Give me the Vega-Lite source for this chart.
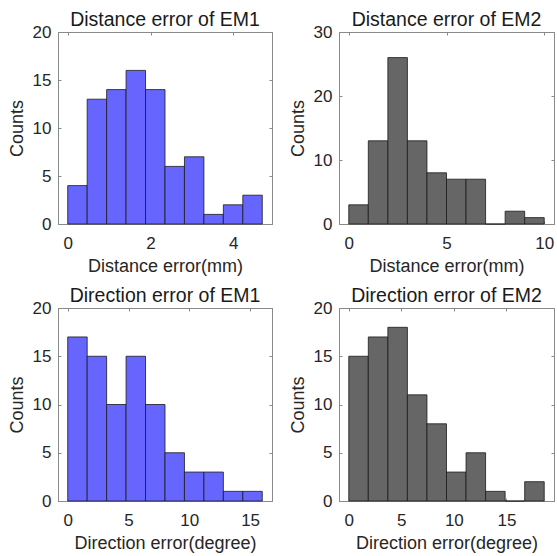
{
  "$schema": "https://vega.github.io/schema/vega-lite/v6.json",
  "background": "white",
  "padding": {"left": 7, "top": 9, "right": 0, "bottom": 0},
  "datasets": {
    "dist1": [
      {"start": 0.00, "end": 0.47, "count": 4},
      {"start": 0.47, "end": 0.94, "count": 13},
      {"start": 0.94, "end": 1.41, "count": 14},
      {"start": 1.41, "end": 1.88, "count": 16},
      {"start": 1.88, "end": 2.35, "count": 14},
      {"start": 2.35, "end": 2.82, "count": 6},
      {"start": 2.82, "end": 3.29, "count": 7},
      {"start": 3.29, "end": 3.76, "count": 1},
      {"start": 3.76, "end": 4.23, "count": 2},
      {"start": 4.23, "end": 4.70, "count": 3}
    ],
    "dist2": [
      {"start": 0, "end": 1, "count": 3},
      {"start": 1, "end": 2, "count": 13},
      {"start": 2, "end": 3, "count": 26},
      {"start": 3, "end": 4, "count": 13},
      {"start": 4, "end": 5, "count": 8},
      {"start": 5, "end": 6, "count": 7},
      {"start": 6, "end": 7, "count": 7},
      {"start": 7, "end": 8, "count": 0},
      {"start": 8, "end": 9, "count": 2},
      {"start": 9, "end": 10, "count": 1}
    ],
    "dir1": [
      {"start": 0.0, "end": 1.6, "count": 17},
      {"start": 1.6, "end": 3.2, "count": 15},
      {"start": 3.2, "end": 4.8, "count": 10},
      {"start": 4.8, "end": 6.4, "count": 15},
      {"start": 6.4, "end": 8.0, "count": 10},
      {"start": 8.0, "end": 9.6, "count": 5},
      {"start": 9.6, "end": 11.2, "count": 3},
      {"start": 11.2, "end": 12.8, "count": 3},
      {"start": 12.8, "end": 14.4, "count": 1},
      {"start": 14.4, "end": 16.0, "count": 1}
    ],
    "dir2": [
      {"start": 0.00, "end": 1.86, "count": 15},
      {"start": 1.86, "end": 3.72, "count": 17},
      {"start": 3.72, "end": 5.58, "count": 18},
      {"start": 5.58, "end": 7.44, "count": 11},
      {"start": 7.44, "end": 9.30, "count": 8},
      {"start": 9.30, "end": 11.16, "count": 3},
      {"start": 11.16, "end": 13.02, "count": 5},
      {"start": 13.02, "end": 14.88, "count": 1},
      {"start": 14.88, "end": 16.74, "count": 0},
      {"start": 16.74, "end": 18.60, "count": 2}
    ]
  },
  "columns": 2,
  "spacing": {"row": 84, "column": 67},
  "bounds": "flush",
  "config": {
    "font": "Liberation Sans",
    "view": {"stroke": "#8a8a8a", "strokeWidth": 1},
    "title": {"fontSize": 19.5, "fontWeight": "normal", "color": "#1a1a1a", "offset": -7, "frame": "group", "baseline": "alphabetic", "font": "Liberation Sans"},
    "axis": {
      "grid": false,
      "domainColor": "#8a8a8a",
      "tickColor": "#8a8a8a",
      "tickSize": -3,
      "labelFontSize": 17,
      "labelColor": "#262626",
      "titleFontSize": 18,
      "titleFontWeight": "normal",
      "titleColor": "#262626",
      "labelFont": "Liberation Sans",
      "titleFont": "Liberation Sans"
    },
    "axisX": {"labelPadding": 14, "titlePadding": 6},
    "axisY": {"labelPadding": 10, "titlePadding": 6, "labelAngle": 0}
  },
  "concat": [
    {
      "width": 214, "height": 192,
      "title": "Distance error of EM1",
      "data": {"name": "dist1"},
      "resolve": {"axis": {"x": "independent", "y": "independent"}},
      "layer": [
        {
          "mark": {"type": "rect", "fill": "#6666FF", "stroke": "#1a1a1a", "strokeWidth": 0.8},
          "encoding": {
            "x": {"field": "start", "type": "quantitative", "scale": {"domain": [-0.235, 4.935], "nice": false, "zero": false}, "axis": {"values": [0, 2, 4], "title": "Distance error(mm)"}},
            "x2": {"field": "end"},
            "y": {"field": "count", "type": "quantitative", "scale": {"domain": [0, 20], "nice": false}, "axis": {"values": [0, 5, 10, 15, 20], "title": "Counts"}},
            "y2": {"datum": 0}
          }
        },
        {
          "mark": {"type": "rect", "opacity": 0},
          "encoding": {
            "x": {"field": "start", "type": "quantitative", "axis": {"orient": "top", "values": [0, 2, 4], "labels": false, "title": null}},
            "x2": {"field": "end"},
            "y": {"field": "count", "type": "quantitative", "axis": {"orient": "right", "values": [0, 5, 10, 15, 20], "labels": false, "title": null}},
            "y2": {"datum": 0}
          }
        }
      ]
    },
    {
      "width": 215, "height": 192,
      "title": "Distance error of EM2",
      "data": {"name": "dist2"},
      "resolve": {"axis": {"x": "independent", "y": "independent"}},
      "layer": [
        {
          "mark": {"type": "rect", "fill": "#666666", "stroke": "#1a1a1a", "strokeWidth": 0.8},
          "encoding": {
            "x": {"field": "start", "type": "quantitative", "scale": {"domain": [-0.5, 10.5], "nice": false, "zero": false}, "axis": {"values": [0, 5, 10], "title": "Distance error(mm)"}},
            "x2": {"field": "end"},
            "y": {"field": "count", "type": "quantitative", "scale": {"domain": [0, 30], "nice": false}, "axis": {"values": [0, 10, 20, 30], "title": "Counts"}},
            "y2": {"datum": 0}
          }
        },
        {
          "mark": {"type": "rect", "opacity": 0},
          "encoding": {
            "x": {"field": "start", "type": "quantitative", "axis": {"orient": "top", "values": [0, 5, 10], "labels": false, "title": null}},
            "x2": {"field": "end"},
            "y": {"field": "count", "type": "quantitative", "axis": {"orient": "right", "values": [0, 10, 20, 30], "labels": false, "title": null}},
            "y2": {"datum": 0}
          }
        }
      ]
    },
    {
      "width": 214, "height": 193,
      "title": "Direction error of EM1",
      "data": {"name": "dir1"},
      "resolve": {"axis": {"x": "independent", "y": "independent"}},
      "layer": [
        {
          "mark": {"type": "rect", "fill": "#6666FF", "stroke": "#1a1a1a", "strokeWidth": 0.8},
          "encoding": {
            "x": {"field": "start", "type": "quantitative", "scale": {"domain": [-0.8, 16.8], "nice": false, "zero": false}, "axis": {"values": [0, 5, 10, 15], "title": "Direction error(degree)"}},
            "x2": {"field": "end"},
            "y": {"field": "count", "type": "quantitative", "scale": {"domain": [0, 20], "nice": false}, "axis": {"values": [0, 5, 10, 15, 20], "title": "Counts"}},
            "y2": {"datum": 0}
          }
        },
        {
          "mark": {"type": "rect", "opacity": 0},
          "encoding": {
            "x": {"field": "start", "type": "quantitative", "axis": {"orient": "top", "values": [0, 5, 10, 15], "labels": false, "title": null}},
            "x2": {"field": "end"},
            "y": {"field": "count", "type": "quantitative", "axis": {"orient": "right", "values": [0, 5, 10, 15, 20], "labels": false, "title": null}},
            "y2": {"datum": 0}
          }
        }
      ]
    },
    {
      "width": 215, "height": 193,
      "title": "Direction error of EM2",
      "data": {"name": "dir2"},
      "resolve": {"axis": {"x": "independent", "y": "independent"}},
      "layer": [
        {
          "mark": {"type": "rect", "fill": "#666666", "stroke": "#1a1a1a", "strokeWidth": 0.8},
          "encoding": {
            "x": {"field": "start", "type": "quantitative", "scale": {"domain": [-0.93, 19.53], "nice": false, "zero": false}, "axis": {"values": [0, 5, 10, 15], "title": "Direction error(degree)"}},
            "x2": {"field": "end"},
            "y": {"field": "count", "type": "quantitative", "scale": {"domain": [0, 20], "nice": false}, "axis": {"values": [0, 5, 10, 15, 20], "title": "Counts"}},
            "y2": {"datum": 0}
          }
        },
        {
          "mark": {"type": "rect", "opacity": 0},
          "encoding": {
            "x": {"field": "start", "type": "quantitative", "axis": {"orient": "top", "values": [0, 5, 10, 15], "labels": false, "title": null}},
            "x2": {"field": "end"},
            "y": {"field": "count", "type": "quantitative", "axis": {"orient": "right", "values": [0, 5, 10, 15, 20], "labels": false, "title": null}},
            "y2": {"datum": 0}
          }
        }
      ]
    }
  ]
}
